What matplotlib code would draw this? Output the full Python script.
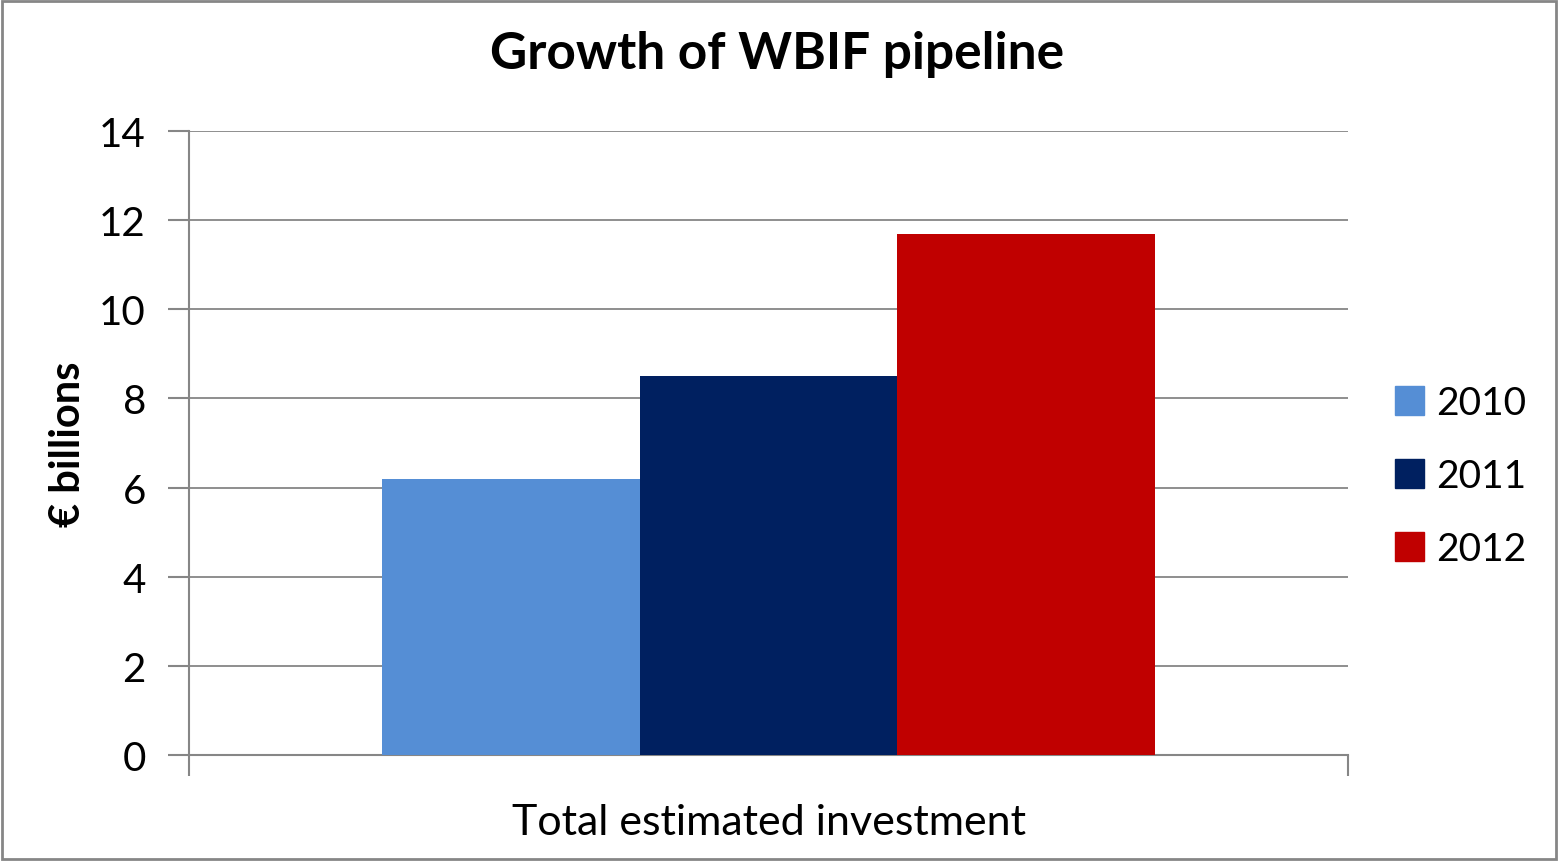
import matplotlib.pyplot as plt
import matplotlib.patches as mpatches
import numpy as np

plt.rcParams["font.family"] = ["Lato", "DejaVu Sans"]

# --- data ---
years = ["2010", "2011", "2012"]
values = [6.2, 8.5, 11.7]
colors = ["#558ED5", "#002060", "#C00000"]
category = "Total estimated investment"

fig = plt.figure(figsize=(15.59, 8.62), dpi=100)
ax = fig.add_axes([189 / 1559, 1 - 756 / 862, (1348 - 189) / 1559, (756 - 132) / 862])

# Excel-style clustered bars, gap width ~150%
bar_w = 1 / (len(years) + 1.5)
offsets = (np.arange(len(years)) - (len(years) - 1) / 2) * bar_w
for off, val, col, yr in zip(offsets, values, colors, years):
    ax.bar(0.5 + off, val, width=bar_w, color=col, label=yr, zorder=3)

ax.set_xlim(0, 1)
ax.set_ylim(0, 14)
ax.set_yticks(range(0, 15, 2))
ax.set_xticks([0, 1])
ax.set_xticklabels(["", ""])
ax.yaxis.grid(True, color="#868686", linewidth=1.3, zorder=0)

for side in ["top", "right"]:
    ax.spines[side].set_visible(False)
for side in ["left", "bottom"]:
    ax.spines[side].set_color("#868686")
    ax.spines[side].set_linewidth(1.5)
ax.tick_params(axis="y", length=15, width=1.5, color="#868686", labelsize=29, pad=16)
ax.tick_params(axis="x", length=15, width=1.5, color="#868686")

ax.set_xlabel(category, fontsize=31, labelpad=16)
ax.set_ylabel("€ billions", fontsize=30, fontweight="bold", labelpad=9)
ax.set_title("Growth of WBIF pipeline", fontsize=37, fontweight="bold", pad=45, x=0.507)

handles = [mpatches.Patch(color=c, label=y) for c, y in zip(colors, years)]
fig.legend(handles=handles, loc="center left", bbox_to_anchor=(1395 / 1559, 1 - 477 / 862),
           frameon=False, fontsize=28, handlelength=0.75, handleheight=0.75,
           handletextpad=0.3, labelspacing=0.95, borderpad=0, borderaxespad=0)

# outer chart border
fig.patches.append(mpatches.Rectangle((0.001, 0.002), 0.997, 0.996, transform=fig.transFigure,
                                      fill=False, edgecolor="#868686", linewidth=2))

fig.savefig("out.png", dpi=100)
